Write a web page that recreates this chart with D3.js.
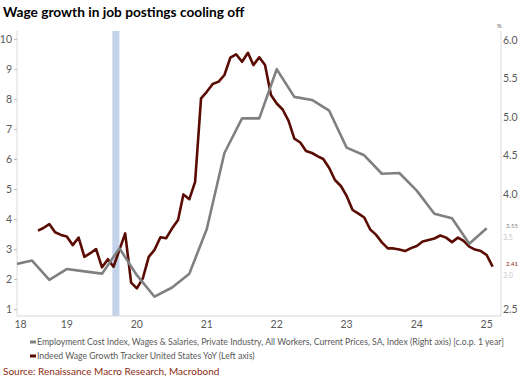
<!DOCTYPE html>
<html><head><meta charset="utf-8">
<script src="https://cdn.jsdelivr.net/npm/d3@7"></script>
<style>
html,body{margin:0;padding:0;background:#fff;}
svg{display:block;font-family:Lato,"Open Sans",sans-serif;}
</style></head>
<body>
<svg id="c" width="523" height="379"></svg>
<script>
// ---- data ----
// Indeed Wage Growth Tracker US YoY (%), monthly from Feb 2019 (left axis)
const indeedStart = "2019-02-01";
const indeedValues = [3.61,3.70,3.83,3.56,3.47,3.42,3.13,3.38,2.74,2.86,3.00,2.39,2.66,2.41,2.97,3.52,
  1.88,1.69,2.02,2.74,2.97,3.39,3.36,3.69,3.97,4.82,4.66,5.24,8.02,8.24,8.50,8.58,8.80,9.38,9.49,9.24,
  9.54,9.13,9.39,9.13,8.13,7.85,7.65,7.27,6.68,6.55,6.27,6.20,6.09,6.00,5.70,5.30,5.10,4.77,4.30,4.18,
  4.05,3.65,3.48,3.22,3.02,3.02,2.98,2.93,3.03,3.10,3.25,3.30,3.35,3.45,3.38,3.23,3.38,3.28,3.08,2.98,
  2.93,2.80,2.41];
// ECI wages & salaries, private industry, YoY (%), quarterly (right axis)
const eciDates = ["2018-10-01","2019-01-01","2019-04-01","2019-07-01","2019-10-01","2020-01-01","2020-04-01",
  "2020-07-01","2020-10-01","2021-01-01","2021-04-01","2021-07-01","2021-10-01","2022-01-01","2022-04-01",
  "2022-07-01","2022-10-01","2023-01-01","2023-04-01","2023-07-01","2023-10-01","2024-01-01","2024-04-01",
  "2024-07-01","2024-10-01","2025-01-01","2025-04-01","2025-07-01"];
const eciValues = [3.08,3.13,2.88,3.02,2.99,2.96,3.29,2.94,2.66,2.78,2.96,3.54,4.53,4.98,4.98,5.62,5.26,5.22,
  5.08,4.60,4.50,4.26,4.27,4.04,3.74,3.68,3.35,3.55];
const recession = ["2020-02-24","2020-04-01"];
const xTickYears = ["18","19","20","21","22","23","24","25"];
const leftTicks = [1,2,3,4,5,6,7,8,9,10];
const rightTicks = [2.5,3.0,3.5,4.0,4.5,5.0,5.5,6.0];
const legendLabels = ["Employment Cost Index, Wages & Salaries, Private Industry, All Workers, Current Prices, SA, Index (Right axis) [c.o.p. 1 year]",
  "Indeed Wage Growth Tracker United States YoY (Left axis)"];
const titleText = "Wage growth in job postings cooling off";
const sourceText = "Source: Renaissance Macro Research, Macrobond";

// ---- layout ----
const L = 17, R = 501, T = 31, B = 316;
const parse = d3.timeParse("%Y-%m-%d");
const base = d3.scaleTime().domain([parse("2020-01-01"), parse("2025-01-01")]).range([102, 452]);
const x = d3.scaleTime().domain([base.invert(L), base.invert(R)]).range([L, R]);
const yL = d3.scaleLinear().domain([1, 10]).range([309, 39]);
const yR = d3.scaleLinear().domain([2.5, 6.0]).range([309, 40]);

const grey = "#808080", maroon = "#5a0b02", txt = "#595959";
const svg = d3.select("#c");

const s0 = parse(indeedStart);
const indeed = indeedValues.map((v, i) => ({d: d3.timeMonth.offset(s0, i), v}));
const eci = eciDates.map((d, i) => ({d: parse(d), v: eciValues[i]}));

svg.append("defs").append("clipPath").attr("id", "clip")
  .append("rect").attr("x", L).attr("y", T).attr("width", R - L).attr("height", B - T);

// recession band
svg.append("rect").attr("x", x(parse(recession[0]))).attr("y", T)
  .attr("width", x(parse(recession[1])) - x(parse(recession[0]))).attr("height", B - T)
  .attr("fill", "#c3d4ea");

// axes frame
const axisCol = "#d9d9d9";
svg.append("line").attr("x1", L).attr("x2", L).attr("y1", T).attr("y2", B).attr("stroke", axisCol);
svg.append("line").attr("x1", R).attr("x2", R).attr("y1", T).attr("y2", B).attr("stroke", axisCol);
svg.append("line").attr("x1", L).attr("x2", R).attr("y1", B).attr("y2", B).attr("stroke", axisCol);

// left axis
const gL = svg.append("g").attr("transform", `translate(${L},0)`)
  .call(d3.axisLeft(yL).tickValues(leftTicks).tickSize(3).tickPadding(2).tickFormat(d3.format("d")));
gL.select(".domain").remove();
gL.selectAll("line").attr("stroke", "#bfbfbf");
gL.selectAll("text").attr("fill", txt).attr("font-size", 10.5).attr("font-family", "Lato");

// right axis
const hidden = [3.0, 3.5];
const gR = svg.append("g").attr("transform", `translate(${R},0)`)
  .call(d3.axisRight(yR).tickValues(rightTicks).tickSize(0).tickPadding(2).tickFormat(d3.format(".1f")));
gR.select(".domain").remove();
gR.selectAll("text").attr("fill", txt).attr("font-size", 10.5).attr("font-family", "Lato");
gR.selectAll(".tick").filter(d => hidden.includes(d)).select("text")
  .attr("fill", "#c8c8c8").attr("font-size", 7).attr("dy", "1.05em");
svg.append("text").attr("x", 497).attr("y", 28).attr("font-size", 6).attr("fill", txt).text("%");

// x axis labels (mid-year)
const xg = svg.append("g");
xTickYears.forEach((yy, i) => {
  let px = x(parse(`20${yy}-07-01`));
  if (px < L) px = 20.5;
  xg.append("text").attr("x", px).attr("y", 328).attr("text-anchor", "middle")
    .attr("font-size", 10.5).attr("fill", txt).text(yy);
});

// lines
const gLines = svg.append("g").attr("clip-path", "url(#clip)");
gLines.append("path").datum(indeed)
  .attr("d", d3.line().x(d => x(d.d)).y(d => yL(d.v)))
  .attr("fill", "none").attr("stroke", maroon).attr("stroke-width", 2.6).attr("stroke-linejoin", "round");
gLines.append("path").datum(eci)
  .attr("d", d3.line().x(d => x(d.d)).y(d => yR(d.v)))
  .attr("fill", "none").attr("stroke", grey).attr("stroke-width", 2.6).attr("stroke-linejoin", "round");

// end labels
const lastE = eci[eci.length - 1], lastI = indeed[indeed.length - 1];
svg.append("text").attr("x", R + 5).attr("y", yR(lastE.v) - 0.5).attr("font-size", 6)
  .attr("fill", "#7f7f7f").text(lastE.v.toFixed(2));
svg.append("text").attr("x", R + 5).attr("y", yL(lastI.v) - 0.5).attr("font-size", 6)
  .attr("fill", "#8b1a0a").text(lastI.v.toFixed(2));

// title
svg.append("text").attr("x", 3).attr("y", 17).attr("font-size", 13.7).attr("font-weight", "bold")
  .attr("fill", "#000").text(titleText);

// legend
const legCols = [grey, maroon];
legendLabels.forEach((t, i) => {
  const yy = 342 + i * 14;
  svg.append("line").attr("x1", 30).attr("x2", 36).attr("y1", yy).attr("y2", yy)
    .attr("stroke", legCols[i]).attr("stroke-width", 3);
  svg.append("text").attr("x", 37).attr("y", yy + 3).attr("font-size", 8.7).attr("fill", txt).text(t);
});

// source
svg.append("text").attr("x", 3).attr("y", 375).attr("font-size", 10).attr("fill", "#8b2a10").text(sourceText);
</script>
</body></html>
